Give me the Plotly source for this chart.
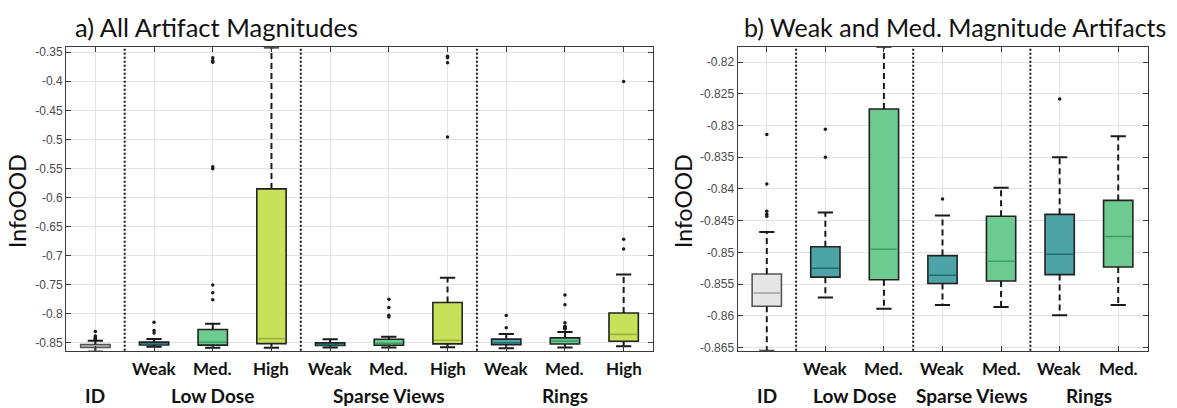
import plotly.graph_objects as go

# ---- data -------------------------------------------------------------
# Panel a): every artifact magnitude
levels_a = ["ID", "Weak", "Med.", "High", "Weak", "Med.", "High", "Weak", "Med.", "High"]
groups = ["ID", "Low Dose", "Sparse Views", "Rings"]
group_of_a = ["ID", "Low Dose", "Low Dose", "Low Dose",
              "Sparse Views", "Sparse Views", "Sparse Views",
              "Rings", "Rings", "Rings"]

q1_a = [-0.8585, -0.8539, -0.8543, -0.8517, -0.8549, -0.8545, -0.8522, -0.8535, -0.8523, -0.8476]
median_a = [-0.8564, -0.8525, -0.8495, -0.8432, -0.8536, -0.8514, -0.8459, -0.8503, -0.8475, -0.8358]
q3_a = [-0.8534, -0.8491, -0.8274, -0.5853, -0.8505, -0.8443, -0.7809, -0.8440, -0.8418, -0.7991]
lower_a = [-0.8655, -0.8571, -0.8589, -0.8590, -0.8583, -0.8586, -0.8578, -0.8599, -0.8583, -0.8561]
upper_a = [-0.8468, -0.8437, -0.8176, -0.3418, -0.8442, -0.8398, -0.7385, -0.8350, -0.8317, -0.7329]

outliers_a = [
    [-0.8307, -0.8386, -0.8403, -0.8420, -0.8435, -0.8443],
    [-0.8149, -0.8290, -0.8335],
    [-0.3596, -0.3640, -0.3670, -0.5473, -0.5508, -0.7509, -0.7640, -0.7764],
    [],
    [],
    [-0.7753, -0.7894, -0.8030, -0.8060],
    [-0.3568, -0.3596, -0.3681, -0.4959],
    [-0.8035, -0.8245],
    [-0.7679, -0.7849, -0.8160, -0.8220, -0.8235, -0.8245, -0.8255, -0.8265],
    [-0.4004, -0.6719, -0.6888],
]

# Panel b): weak and medium magnitudes only (zoomed)
outliers_b = [
    [-0.8314, -0.8392, -0.8435, -0.8440, -0.8443],
    [-0.8306, -0.8350],
    [],
    [-0.8416],
    [],
    [-0.8258],
    [],
]

yticks_a = [-0.35, -0.4, -0.45, -0.5, -0.55, -0.6, -0.65, -0.7, -0.75, -0.8, -0.85]
yticklabels_a = ["-0.35", "-0.4", "-0.45", "-0.5", "-0.55", "-0.6", "-0.65", "-0.7", "-0.75", "-0.8", "-0.85"]
yticks_b = [-0.82, -0.825, -0.83, -0.835, -0.84, -0.845, -0.85, -0.855, -0.86, -0.865]
yticklabels_b = ["-0.82", "-0.825", "-0.83", "-0.835", "-0.84", "-0.845", "-0.85", "-0.855", "-0.86", "-0.865"]

# ---- styling ----------------------------------------------------------
FILL = {"ID": "#e6e6e6", "Weak": "#4ea3a6", "Med.": "#6ecb8f", "High": "#c9e15a"}
MEDIAN = {"ID": "#a0a0a0", "Weak": "#1f6f71", "Med.": "#3d9d62", "High": "#9db43c"}
EDGE = {"ID": "#555555", "Weak": "#222222", "Med.": "#222222", "High": "#222222"}
BOX_W = 0.5
CAP_W = 0.26
LABEL_FONT = "Lato, 'Open Sans', sans-serif"
TICK_FONT = "'Liberation Sans', Arial, sans-serif"

# panel b keeps everything that is not "High"
keep = [i for i, lv in enumerate(levels_a) if lv != "High"]
levels_b = [levels_a[i] for i in keep]
group_of_b = [group_of_a[i] for i in keep]
q1_b = [q1_a[i] for i in keep]
median_b = [median_a[i] for i in keep]
q3_b = [q3_a[i] for i in keep]
lower_b = [lower_a[i] for i in keep]
upper_b = [upper_a[i] for i in keep]

fig = go.Figure()


def add_panel(xa, ya, levels, q1, med, q3, lo, hi, outl):
    xs = list(range(1, len(levels) + 1))
    # boxes as floating bars
    for x, lv, a, b in zip(xs, levels, q1, q3):
        fig.add_trace(go.Bar(
            x=[x], y=[b - a], base=[a], width=BOX_W,
            marker=dict(color=FILL[lv], line=dict(color=EDGE[lv], width=1.6)),
            xaxis=xa, yaxis=ya, showlegend=False, hoverinfo="skip"))
    # medians
    for x, lv, m in zip(xs, levels, med):
        fig.add_trace(go.Scatter(
            x=[x - BOX_W / 2 + 0.02, x + BOX_W / 2 - 0.02], y=[m, m], mode="lines",
            line=dict(color=MEDIAN[lv], width=1.6),
            xaxis=xa, yaxis=ya, showlegend=False, hoverinfo="skip"))
    # dashed whiskers
    wx, wy = [], []
    for x, a, b, l, h in zip(xs, q1, q3, lo, hi):
        wx += [x, x, None, x, x, None]
        wy += [b, h, None, a, l, None]
    fig.add_trace(go.Scatter(
        x=wx, y=wy, mode="lines", line=dict(color="#1a1a1a", width=2, dash="6px,4px"),
        xaxis=xa, yaxis=ya, showlegend=False, hoverinfo="skip"))
    # whisker caps
    cx, cy = [], []
    for x, l, h in zip(xs, lo, hi):
        cx += [x - CAP_W / 2, x + CAP_W / 2, None, x - CAP_W / 2, x + CAP_W / 2, None]
        cy += [h, h, None, l, l, None]
    fig.add_trace(go.Scatter(
        x=cx, y=cy, mode="lines", line=dict(color="#1a1a1a", width=2),
        xaxis=xa, yaxis=ya, showlegend=False, hoverinfo="skip"))
    # outliers
    ox, oy = [], []
    for x, pts in zip(xs, outl):
        ox += [x] * len(pts)
        oy += pts
    fig.add_trace(go.Scatter(
        x=ox, y=oy, mode="markers", marker=dict(color="#1a1a1a", size=3.5),
        xaxis=xa, yaxis=ya, showlegend=False, hoverinfo="skip"))


add_panel("x", "y", levels_a, q1_a, median_a, q3_a, lower_a, upper_a, outliers_a)
add_panel("x2", "y2", levels_b, q1_b, median_b, q3_b, lower_b, upper_b, outliers_b)

W, H = 1177, 408
dom_a = [66 / W, 653 / W]
dom_b = [737.5 / W, 1147.5 / W]
dom_y = [1 - 354 / H, 1 - 46 / H]

axis_common = dict(
    showline=True, linecolor="#3a3a3a", linewidth=1, mirror="ticks",
    ticks="inside", ticklen=5, tickcolor="#3a3a3a",
    showgrid=True, gridcolor="#e3e3e3", gridwidth=1, zeroline=False,
)

fig.update_layout(
    width=W, height=H, margin=dict(l=0, r=0, t=0, b=0),
    paper_bgcolor="white", plot_bgcolor="white",
    barmode="overlay", showlegend=False,
    xaxis=dict(domain=dom_a, range=[0.5, len(levels_a) + 0.5],
               tickvals=list(range(1, len(levels_a) + 1)), ticktext=[""] * len(levels_a),
               anchor="y", **axis_common),
    yaxis=dict(domain=dom_y, range=[-0.8641, -0.3415], tickvals=yticks_a, ticktext=yticklabels_a,
               tickfont=dict(family=TICK_FONT, size=12, color="#4a4a4a"),
               anchor="x", **axis_common),
    xaxis2=dict(domain=dom_b, range=[0.5, len(levels_b) + 0.5],
                tickvals=list(range(1, len(levels_b) + 1)), ticktext=[""] * len(levels_b),
                anchor="y2", **axis_common),
    yaxis2=dict(domain=dom_y, range=[-0.86551, -0.81767], tickvals=yticks_b, ticktext=yticklabels_b,
                tickfont=dict(family=TICK_FONT, size=12, color="#4a4a4a"),
                anchor="x2", **axis_common),
)


def group_layout(group_of):
    # positions of group centres and separators between groups
    centres, seps = {}, []
    for g in groups:
        idx = [i + 1 for i, gg in enumerate(group_of) if gg == g]
        centres[g] = (idx[0] + idx[-1]) / 2
        if idx[-1] < len(group_of):
            seps.append(idx[-1] + 0.5)
    return centres, seps


annotations = []
shapes = []
for xa, levels, group_of in (("x", levels_a, group_of_a), ("x2", levels_b, group_of_b)):
    ya = "y" if xa == "x" else "y2"
    centres, seps = group_layout(group_of)
    for s in seps:
        shapes.append(dict(type="line", xref=xa, yref=ya + " domain", x0=s, x1=s, y0=0, y1=1,
                           line=dict(color="#1a1a1a", width=2, dash="2px,2px")))
    for i, lv in enumerate(levels):
        if lv == "ID":
            continue
        annotations.append(dict(x=i + 1, y=1 - 372 / H, xref=xa, yref="paper", text=lv,
                                showarrow=False, xanchor="center", yanchor="middle",
                                font=dict(family=LABEL_FONT, size=17, color="#111111", weight="bold")))
    for g in groups:
        annotations.append(dict(x=centres[g], y=1 - 399 / H, xref=xa, yref="paper", text=g,
                                showarrow=False, xanchor="center", yanchor="middle",
                                font=dict(family=LABEL_FONT, size=19, color="#111111", weight="bold")))

# panel titles and y-axis titles
annotations.append(dict(x=73 / W, y=1 - 25 / H, xref="paper", yref="paper",
                        text="a) All Artifact Magnitudes", showarrow=False,
                        xanchor="left", yanchor="middle",
                        font=dict(family=LABEL_FONT, size=25.5, color="#111111")))
annotations.append(dict(x=742 / W, y=1 - 25 / H, xref="paper", yref="paper",
                        text="b) Weak and Med. Magnitude Artifacts", showarrow=False,
                        xanchor="left", yanchor="middle",
                        font=dict(family=LABEL_FONT, size=25, color="#111111")))
for xpix in (17, 683):
    annotations.append(dict(x=xpix / W, y=1 - 202 / H, xref="paper", yref="paper",
                            text="InfoOOD", textangle=-90, showarrow=False,
                            xanchor="center", yanchor="middle",
                            font=dict(family=LABEL_FONT, size=23, color="#111111")))

fig.update_layout(annotations=annotations, shapes=shapes)
fig.write_html("out.html")
